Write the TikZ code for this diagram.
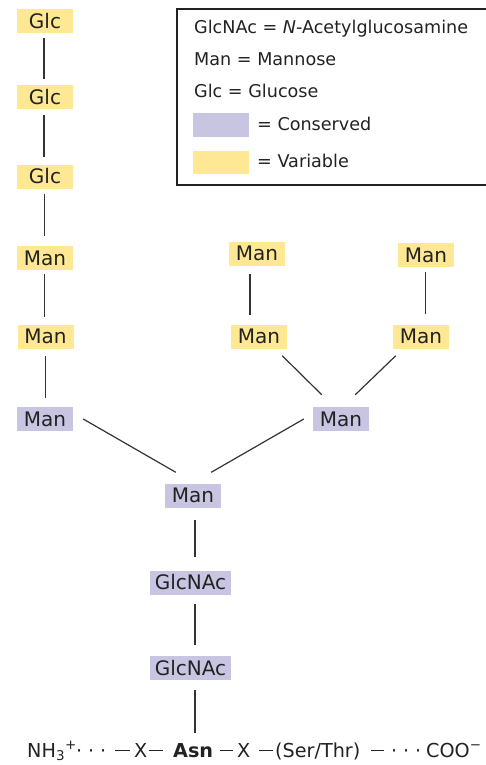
\documentclass[tikz,border=0pt]{standalone}
\usepackage{fontspec}
\setmainfont{DejaVu Sans}
\definecolor{varc}{HTML}{FFE893}
\definecolor{conc}{HTML}{C8C5E3}
\definecolor{linec}{HTML}{333333}
\definecolor{inkc}{HTML}{222222}
\newcommand{\pdash}[1]{\rule[6pt]{#1}{1.2pt}}
\newcommand{\pdot}{\makebox[12pt]{·}}
\begin{document}
\begin{tikzpicture}[x=1pt,y=-1pt,
  sugar/.style={inner sep=0pt, minimum width=56pt, minimum height=24pt,
    font=\fontsize{20}{24}\selectfont, text height=14.6pt, text depth=0pt, text=inkc},
  var/.style={sugar, fill=varc},
  cons/.style={sugar, fill=conc},
  wide/.style={minimum width=81pt},
  bond/.style={draw=linec, line width=1.2pt},
  legtext/.style={anchor=base west, inner sep=0pt, font=\fontsize{17.6}{21}\selectfont, text=inkc},
  swatch/.style={inner sep=0pt, minimum width=56pt, minimum height=24pt}]
\useasboundingbox (0,0) rectangle (486,765);

% legend
\draw[line width=1.2pt, draw=inkc] (488,9) -- (177,9) -- (177,185) -- (488,185);
\node[legtext] (l1) at (194,34) {GlcNAc = \textit{N}-Acetylglucosamine};
\node[legtext] (l2) at (194,66) {Man = Mannose};
\node[legtext] (l3) at (194,98) {Glc = Glucose};
\node[swatch, fill=conc] (sc) at (221,125) {};
\node[swatch, fill=varc, minimum height=23pt] (sv) at (221,162.5) {};
\node[legtext] (l4) at (257,131) {= Conserved};
\node[legtext] (l5) at (257,167) {= Variable};

% sugars
\node[var] (g1) at (45,21) {Glc};
\node[var] (g2) at (45,97.5) {Glc};
\node[var] (g3) at (45,176.5) {Glc};
\node[var] (m1) at (45,258) {Man};
\node[var] (m2) at (45.5,336.5) {Man};
\node[cons] (lc) at (45,419) {Man};
\node[var] (mt) at (257,253.5) {Man};
\node[var] (rt) at (426,255) {Man};
\node[var] (mm) at (259,336.5) {Man};
\node[var] (rm) at (421,336.5) {Man};
\node[cons] (rc) at (341,419) {Man};
\node[cons] (bm) at (193,495.5) {Man};
\node[cons, wide] (n1) at (190.5,582.5) {GlcNAc};
\node[cons, wide] (n2) at (190.5,668) {GlcNAc};

% peptide
\node[anchor=base west, inner sep=0pt, font=\fontsize{19.2}{22}\selectfont, text=inkc] (pep) at (27,757)
  {\makebox[46pt][l]{NH\textsubscript{3}\textsuperscript{+}}\pdot\pdot\pdot\hspace{6pt}\pdash{15pt}\hspace{4pt}\makebox[15pt][l]{X}\pdash{14pt}\hspace{10pt}\makebox[47pt][l]{\textbf{Asn}}\pdash{13pt}\hspace{4pt}\makebox[22pt][l]{X}\pdash{14pt}\hspace{2pt}\makebox[96pt][l]{(Ser/Thr)}\pdash{13pt}\hspace{4pt}\pdot\pdot\pdot\hspace{2pt}COO\textsuperscript{−}};
\coordinate (asn) at (195,733);

% bonds
\draw[bond, shorten <=5pt, shorten >=6pt] ([xshift=-1pt]g1.south) -- ([xshift=-1pt]g2.north);
\draw[bond, shorten <=5pt, shorten >=7pt] ([xshift=-1pt]g2.south) -- ([xshift=-1pt]g3.north);
\draw[bond, shorten <=5pt, shorten >=10pt] ([xshift=-0.5pt]g3.south) -- ([xshift=-0.5pt]m1.north);
\draw[bond, shorten <=4pt, shorten >=7pt] ([xshift=-0.3pt]m1.south) -- ([xshift=-0.8pt]m2.north);
\draw[bond, shorten <=7pt, shorten >=9pt] ([xshift=0.2pt]m2.south) -- ([xshift=0.7pt]lc.north);
\draw[bond, shorten <=8pt, shorten >=9pt] ([xshift=-7pt]mt.south) -- ([xshift=-9pt]mm.north);
\draw[bond, shorten <=5pt, shorten >=10pt] ([xshift=-0.3pt]rt.south) -- ([xshift=4.7pt]rm.north);
\draw[bond] ([xshift=-5pt,yshift=-7pt]mm.south east) -- ([xshift=9pt,yshift=12pt]rc.north west);
\draw[bond] ([xshift=3pt,yshift=-7pt]rm.south west) -- ([xshift=-14pt,yshift=12pt]rc.north east);
\draw[bond] ([xshift=10pt]lc.east) -- ([xshift=11pt,yshift=11pt]bm.north west);
\draw[bond] ([xshift=-9pt]rc.west) -- ([xshift=-10pt,yshift=11pt]bm.north east);
\draw[bond, shorten <=12pt, shorten >=13pt] ([xshift=2pt]bm.south) -- ([xshift=4.5pt]n1.north);
\draw[bond, shorten <=9pt, shorten >=11pt] ([xshift=4.5pt]n1.south) -- ([xshift=4.5pt]n2.north);
\draw[bond, shorten <=10pt] ([xshift=4.5pt]n2.south) -- (asn);
\end{tikzpicture}
\end{document}
